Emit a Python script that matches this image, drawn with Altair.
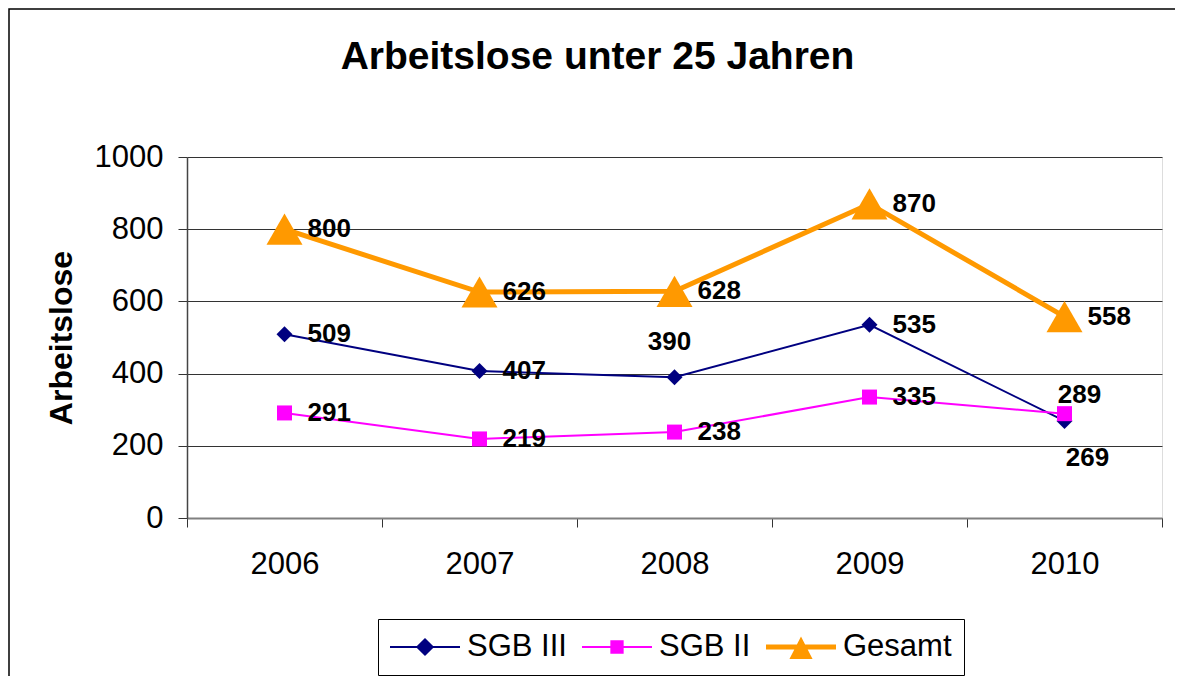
import altair as alt
import pandas as pd

years = ["2006", "2007", "2008", "2009", "2010"]
series_names = ["SGB III", "SGB II", "Gesamt"]
sgb3 = [509, 407, 390, 535, 269]
sgb2 = [291, 219, 238, 335, 289]
gesamt = [800, 626, 628, 870, 558]
series_colors = ["#000080", "#FF00FF", "#FF9900"]

rows = []
for name, vals in zip(series_names, [sgb3, sgb2, gesamt]):
    for y, v in zip(years, vals):
        rows.append({"year": y, "series": name, "value": v})
df = pd.DataFrame(rows)

FONT = "Liberation Sans"

xenc = alt.X("year:O", bandPosition=0.5,
             scale=alt.Scale(type="band", paddingInner=0, paddingOuter=0),
             axis=alt.Axis(title=None, labelAngle=0, tickBand="extent", tickSize=9,
                           labelPadding=22, grid=False, domainColor="#808080",
                           domainWidth=2, tickColor="#333", labelFontSize=31))
yenc = alt.Y("value:Q", scale=alt.Scale(domain=[0, 1000], nice=False),
             axis=alt.Axis(title="Arbeitslose", values=[0, 200, 400, 600, 800, 1000],
                           format="d",
                           grid=True, gridColor="#333", gridWidth=1, tickSize=9,
                           labelPadding=15, titlePadding=16, domainColor="#444",
                           domainWidth=1.5, tickColor="#333", labelFontSize=31,
                           titleFontSize=32, titleFontWeight="bold"))
color = alt.Color("series:N", scale=alt.Scale(domain=series_names, range=series_colors),
                  legend=None)

is3 = "datum.series === 'SGB III'"
is2 = "datum.series === 'SGB II'"

base = alt.Chart(df)

lines = base.mark_line().encode(
    x=xenc, y=yenc, color=color,
    strokeWidth={"condition": [{"test": is3, "value": 2}, {"test": is2, "value": 2}], "value": 5},
)

markers = base.mark_point(filled=True, opacity=1).encode(
    x=xenc, y=yenc, color=color,
    shape={"condition": [{"test": is3, "value": "diamond"}, {"test": is2, "value": "square"}],
           "value": "triangle-up"},
    size={"condition": [{"test": is3, "value": 256}, {"test": is2, "value": 225}], "value": 1296},
)

# legend symbols: a line segment with the series marker (custom SVG paths)
legend_paths = [
    "M-1,-0.03H1V0.03H-1Z M0,-0.26L0.26,0L0,0.26L-0.26,0Z",
    "M-1,-0.03H1V0.03H-1Z M-0.19,-0.19H0.19V0.19H-0.19Z",
    "M-1,-0.07H1V0.07H-1Z M0,-0.3L0.33,0.34H-0.33Z",
]
legend_layer = base.mark_point(filled=True, opacity=1).encode(
    x=alt.value(0), y=alt.value(5000),
    color=alt.Color("series:N", scale=alt.Scale(domain=series_names, range=series_colors),
                    legend=alt.Legend(title=None, orient="none", legendX=191, legendY=462,
                                      direction="horizontal", columns=3,
                                      strokeColor="#000", padding=12,
                                      labelFontSize=31, labelFont=FONT, labelOffset=7,
                                      labelColor="#000", clipHeight=32,
                                      symbolSize=4900, symbolStrokeWidth=0,
                                      symbolOpacity=1, columnPadding=15, labelLimit=0)),
    shape=alt.Shape("series:N", scale=alt.Scale(domain=series_names, range=legend_paths)),
)

exc_390 = "datum.series === 'SGB III' && datum.year === '2008'"
exc_269 = "datum.series === 'SGB III' && datum.year === '2010'"
exc_289 = "datum.series === 'SGB II' && datum.year === '2010'"

txt_kw = dict(fontSize=26, fontWeight="bold", font=FONT, color="#000", baseline="middle")

labels = base.transform_filter(
    f"!({exc_390}) && !({exc_269}) && !({exc_289})"
).mark_text(align="left", dx=23, **txt_kw).encode(x=xenc, y=yenc, text="value:Q")
lab390 = base.transform_filter(exc_390).mark_text(align="center", dx=-5, dy=-35, **txt_kw).encode(
    x=xenc, y=yenc, text="value:Q")
lab269 = base.transform_filter(exc_269).mark_text(align="center", dx=23, dy=37, **txt_kw).encode(
    x=xenc, y=yenc, text="value:Q")
lab289 = base.transform_filter(exc_289).mark_text(align="center", dx=15, dy=-19, **txt_kw).encode(
    x=xenc, y=yenc, text="value:Q")

frame = alt.Chart(alt.Data(values=[{"k": 1}])).mark_rect(
    fill="transparent", stroke="#000", strokeWidth=1.5
).encode(x=alt.value(-178), x2=alt.value(1005), y=alt.value(-148), y2=alt.value(560))

chart = alt.layer(frame, lines, markers, legend_layer, labels, lab390, lab269, lab289).resolve_scale(
    color="independent", shape="independent"
).properties(
    width=975, height=361,
    title=alt.TitleParams("Arbeitslose unter 25 Jahren", fontSize=39, fontWeight="bold",
                          font=FONT, anchor="middle", frame="group", dx=-77, offset=-69,
                          color="#000"),
    autosize=alt.AutoSizeParams(type="none"),
    padding={"left": 179, "top": 149, "right": 13, "bottom": 158},
).configure_view(
    stroke="#808080", strokeWidth=2
).configure_axis(
    labelFont=FONT, titleFont=FONT, labelColor="#000", titleColor="#000"
).configure(background="white")

chart.save("out.html", embed_options={"renderer": "svg", "actions": False})
